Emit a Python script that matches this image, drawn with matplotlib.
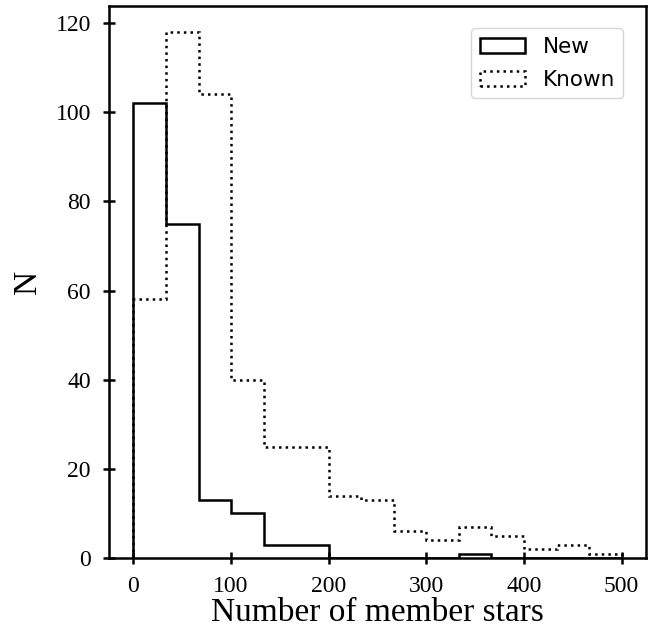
import numpy as np
import matplotlib.pyplot as plt

# bin edges (15 equal bins from 0 to 500) and counts
bin_edges = np.linspace(0, 500, 16)
new_counts = [102, 75, 13, 10, 3, 3, 0, 0, 0, 0, 1, 0, 0, 0, 0]
known_counts = [58, 118, 104, 40, 25, 25, 14, 13, 6, 4, 7, 5, 2, 3, 1]

bin_left = bin_edges[:-1]

fig = plt.figure(figsize=(6.59, 6.37), dpi=100)
ax = fig.add_axes([0.1654, 0.124, 0.815, 0.867])

ax.hist(bin_left, bins=bin_edges, weights=new_counts, histtype='step',
        color='black', linewidth=1.8, linestyle='-', label='New')
ax.hist(bin_left, bins=bin_edges, weights=known_counts, histtype='step',
        color='black', linewidth=1.8, linestyle=':', label='Known')

ax.set_xlabel('Number of member stars', fontsize=24, family='Liberation Serif',
              labelpad=0)
ax.set_ylabel('N', fontsize=24, family='Liberation Serif', labelpad=9)
ax.set_xticks([0, 100, 200, 300, 400, 500])
ax.set_yticks([0, 20, 40, 60, 80, 100, 120])
ax.tick_params(direction='inout', length=8, width=1.8, labelsize=17, pad=9)
for lab in ax.get_xticklabels() + ax.get_yticklabels():
    lab.set_family('Liberation Serif')
for sp in ax.spines.values():
    sp.set_linewidth(1.8)

ax.legend(loc='upper right', fontsize=15.5, handlelength=2.1,
          borderaxespad=1.05, labelspacing=0.6)

plt.savefig('out.png', dpi=100)
